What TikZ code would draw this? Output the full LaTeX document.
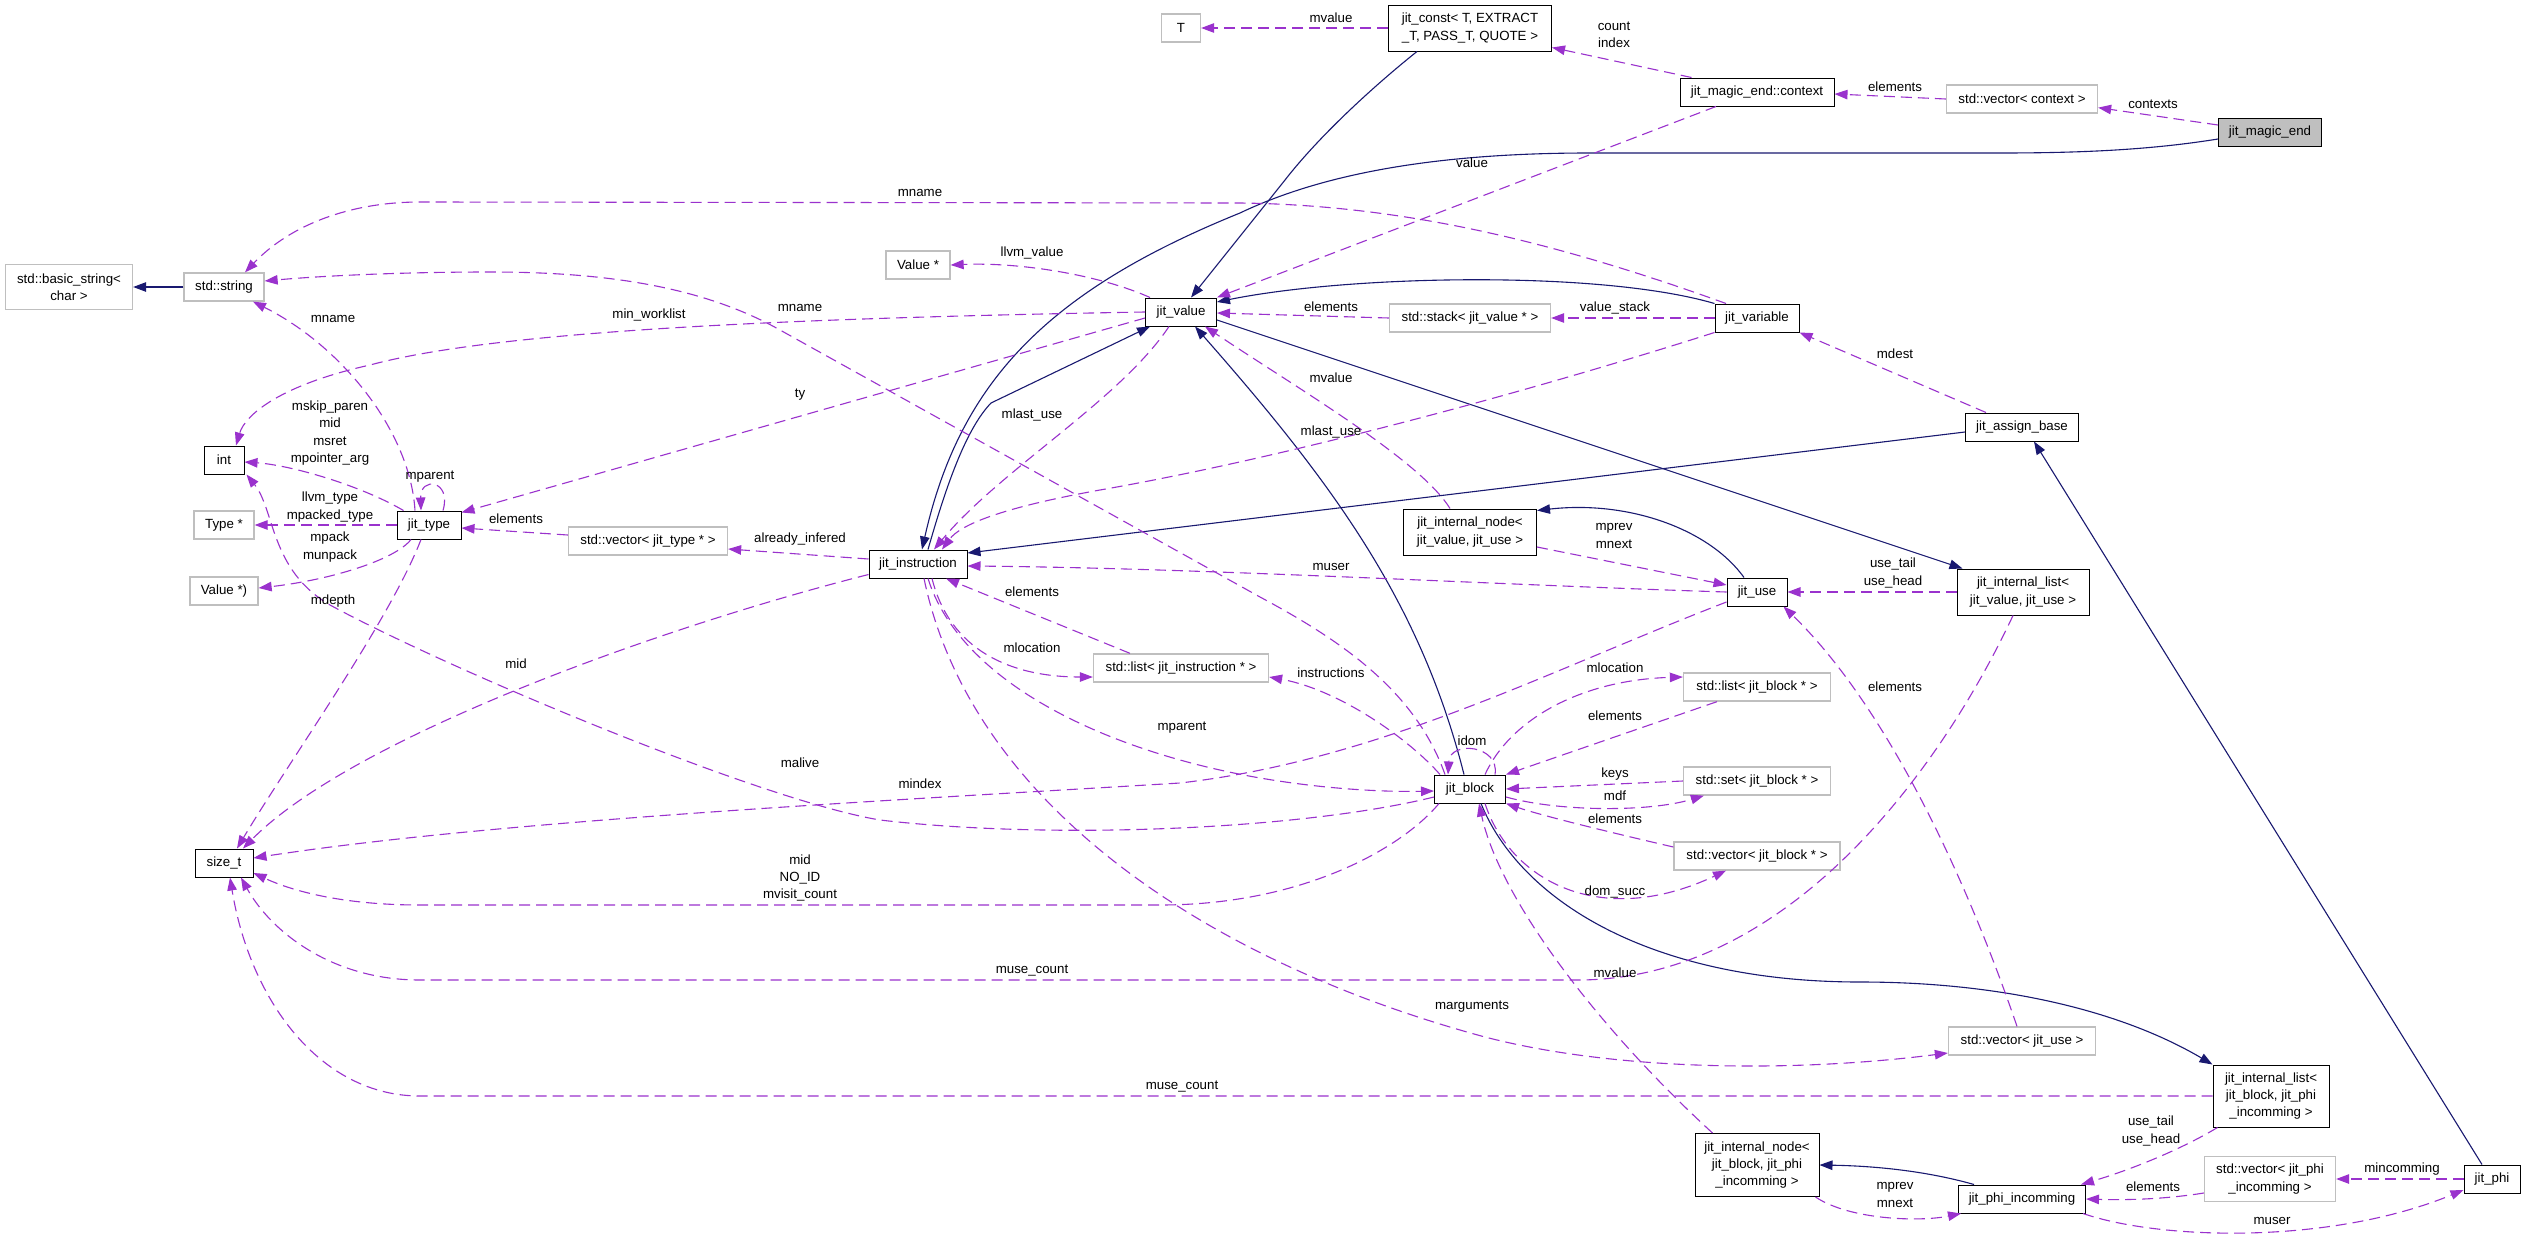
\documentclass[tikz,border=0pt]{standalone}
\usepackage{fontspec}
\setmainfont{Liberation Sans}
\usetikzlibrary{arrows.meta}
\definecolor{navyb}{HTML}{191970}
\definecolor{purp}{HTML}{9A32CD}
\definecolor{grayb}{HTML}{BFBFBF}
\newcommand{\dxfont}{\fontsize{13.3}{17.3}\selectfont}
\begin{document}
\begin{tikzpicture}[x=1pt,y=-1pt,
  cls/.style={draw=black, line width=1pt, fill=white, inner xsep=2pt, inner ysep=2pt, align=center, font=\dxfont, minimum height=28pt},
  ext/.style={cls, draw=grayb, line width=1.3pt},
  inh/.style={draw=navyb, line width=1.1pt, -{Triangle[length=13pt,width=9.5pt]}},
  asso/.style={draw=purp, line width=1.1pt, dash pattern=on 11pt off 6pt, -{Triangle[length=13pt,width=9.5pt]}},
  lbl/.style={font=\dxfont, align=center, inner sep=0pt}]
\path[fill=white,use as bounding box] (0,0) rectangle (2525,1242);

% ---------- nodes ----------
\node[ext, minimum width=127pt, minimum height=45pt] (bstr) at (69,287) {std::basic\_string<\\char >};
\node[ext, minimum width=80pt] (sstr) at (224,287) {std::string};
\node[ext, minimum width=39pt] (nT) at (1181,28) {T};
\node[ext, minimum width=64pt] (valp) at (918,265) {Value *};
\node[cls, minimum width=71pt] (jval) at (1181,312) {jit\_value};
\node[cls, minimum width=163pt, minimum height=46pt] (jconst) at (1470,28) {jit\_const< T, EXTRACT\\\_T, PASS\_T, QUOTE >};
\node[cls, minimum width=154pt] (ctx) at (1757,92) {jit\_magic\_end::context};
\node[ext, minimum width=161pt] (stack) at (1470,318) {std::stack< jit\_value * >};
\node[cls, minimum width=84pt] (jvar) at (1757,318) {jit\_variable};
\node[ext, minimum width=151pt] (vctx) at (2022,99) {std::vector< context >};
\node[cls, fill=grayb, minimum width=103pt] (jme) at (2270,132) {jit\_magic\_end};
\node[cls, minimum width=40pt] (nint) at (224,460) {int};
\node[ext, minimum width=60pt] (typep) at (224,525) {Type *};
\node[cls, minimum width=64pt] (jtype) at (429,525) {jit\_type};
\node[ext, minimum width=68pt] (valpp) at (224,591) {Value *)};
\node[ext, minimum width=159pt] (vtype) at (648,541) {std::vector< jit\_type * >};
\node[cls, minimum width=98pt] (jinst) at (918,564) {jit\_instruction};
\node[ext, minimum width=175pt] (linst) at (1181,668) {std::list< jit\_instruction * >};
\node[cls, minimum width=133pt, minimum height=46pt] (inode1) at (1470,532) {jit\_internal\_node<\\jit\_value, jit\_use >};
\node[cls, minimum width=60pt] (juse) at (1757,592) {jit\_use};
\node[ext, minimum width=147pt] (lblock) at (1757,687) {std::list< jit\_block * >};
\node[cls, minimum width=71pt] (jblock) at (1470,789) {jit\_block};
\node[ext, minimum width=147pt] (sblock) at (1757,781) {std::set< jit\_block * >};
\node[cls, minimum width=113pt] (jab) at (2022,427) {jit\_assign\_base};
\node[cls, minimum width=132pt, minimum height=46pt] (ilist1) at (2023,592) {jit\_internal\_list<\\jit\_value, jit\_use >};
\node[cls, minimum width=58pt] (sizet) at (224,863) {size\_t};
\node[ext, minimum width=166pt] (vblock) at (1757,856) {std::vector< jit\_block * >};
\node[cls, minimum width=124pt, minimum height=63pt] (inode2) at (1757,1165) {jit\_internal\_node<\\jit\_block, jit\_phi\\\_incomming >};
\node[ext, minimum width=147pt] (vuse) at (2022,1041) {std::vector< jit\_use >};
\node[cls, minimum width=116pt, minimum height=62pt] (ilist2) at (2271,1096) {jit\_internal\_list<\\jit\_block, jit\_phi\\\_incomming >};
\node[ext, minimum width=131pt, minimum height=45pt] (vphi) at (2270,1179) {std::vector< jit\_phi\\\_incomming >};
\node[cls, minimum width=56pt] (jphi) at (2492,1179) {jit\_phi};
\node[cls, minimum width=127pt] (jpi) at (2022,1199) {jit\_phi\_incomming};

% ---------- inheritance ----------
\draw[inh] (sstr.west) -- (bstr.east);
\draw[inh] ([xshift=-53pt]jconst.south) .. controls (1375,85) and (1320,135) .. (1285,180) -- ([xshift=10pt]jval.north);
\draw[inh] ([yshift=-7pt]jme.west) .. controls (2150,150) and (2080,153) .. (2000,153) -- (1590,153) .. controls (1450,153) and (1330,170) .. (1240,213) .. controls (1050,290) and (960,380) .. ([xshift=4pt]jinst.north);
\draw[inh] (jvar.north west) .. controls (1600,270) and (1350,275) .. ([yshift=10pt]jval.east);
\draw[inh] ([xshift=10pt]jinst.north) .. controls (945,490) and (965,430) .. (991,403) -- ([xshift=5pt]jval.south west);
\draw[inh] ([yshift=-8pt]jval.east) -- ([xshift=6pt]ilist1.north west);
\draw[inh] ([yshift=-5pt]jab.west) -- ([yshift=11pt]jinst.east);
\draw[inh] ([xshift=-13pt]juse.north) .. controls (1710,530) and (1630,500) .. ([yshift=-2pt]inode1.north east);
\draw[inh] ([xshift=-6pt]jblock.north) .. controls (1420,600) and (1330,480) .. ([xshift=14pt]jval.south);
\draw[inh] ([xshift=11pt]jblock.south) .. controls (1520,900) and (1650,982) .. (1860,982) .. controls (2000,982) and (2120,1010) .. (ilist2.north west);
\draw[inh] ([xshift=-10pt]jphi.north) -- ([xshift=12pt]jab.south);
\draw[inh] ([xshift=-48pt]jpi.north) .. controls (1930,1172) and (1880,1166) .. (inode2.east);

% ---------- usage ----------
\draw[asso] ([yshift=7pt]jme.west) -- ([yshift=6pt]vctx.south east);
\draw[asso] (vctx.west) -- ([yshift=-2pt]ctx.east);
\draw[asso] ([xshift=12pt]ctx.north west) -- ([yshift=4pt]jconst.south east);
\draw[asso] (jconst.west) -- (nT.east);
\draw[asso] ([xshift=-41pt]ctx.south) -- (jval.north east);
\draw[asso] (jvar.west) -- (stack.east);
\draw[asso] (stack.west) -- ([yshift=-1pt]jval.east);
\draw[asso] ([xshift=-31pt]jvar.north) .. controls (1550,240) and (1400,205) .. (1240,203) -- (420,202) .. controls (350,202) and (290,225) .. ([xshift=21pt]sstr.north);
\draw[asso] ([xshift=-25pt]jblock.north) .. controls (1415,690) and (1340,640) .. (1260,597) -- (780,330) .. controls (700,285) and (600,272) .. (490,272) .. controls (400,272) and (320,276) .. ([yshift=6pt]sstr.east);
\draw[asso] (jval.west) .. controls (800,318) and (500,330) .. (370,365) .. controls (280,385) and (245,415) .. ([xshift=12pt]nint.north);
\draw[asso] ([xshift=5pt]jval.north west) .. controls (1100,275) and (1020,262) .. (valp.east);
\draw[asso] ([yshift=-6pt]jval.west) -- ([yshift=-2pt]jtype.north east);
\draw[asso] ([xshift=-12pt]jval.south) .. controls (1120,400) and (1000,470) .. ([xshift=16pt]jinst.north);
\draw[asso] (jvar.south west) .. controls (1550,385) and (1300,455) .. (1100,490) .. controls (1000,508) and (960,525) .. ([xshift=24pt]jinst.north);
\draw[asso] ([xshift=-20pt]inode1.north) .. controls (1420,460) and (1300,390) .. ([xshift=24pt]jval.south);
\draw[asso] ([yshift=-15pt]inode1.east) -- ([yshift=7pt]juse.west);
\draw[asso] (juse.west) .. controls (1500,585) and (1200,568) .. ([yshift=-2pt]jinst.east);
\draw[asso] ([yshift=-10pt]juse.west) .. controls (1550,670) and (1380,760) .. (1180,783) .. controls (900,800) and (500,820) .. ([yshift=5pt]sizet.east);
\draw[asso] ([yshift=5pt]jinst.west) -- ([yshift=-8pt]vtype.east);
\draw[asso] ([yshift=6pt]vtype.west) -- ([yshift=-3pt]jtype.east);
\draw[asso] ([xshift=14pt]jtype.north) .. controls (452,480) and (420,476) .. ([xshift=-8pt]jtype.north);
\draw[asso] ([xshift=-14pt]jtype.north) .. controls (410,430) and (340,345) .. ([xshift=29pt]sstr.south);
\draw[asso] ([xshift=7pt]jtype.north west) .. controls (360,485) and (290,465) .. ([yshift=-2pt]nint.east);
\draw[asso] (jtype.west) -- (typep.east);
\draw[asso] ([xshift=-18pt]jtype.south) .. controls (395,560) and (330,580) .. ([yshift=3pt]valpp.east);
\draw[asso] ([xshift=-8pt]jtype.south) .. controls (390,620) and (290,760) .. ([xshift=13pt]sizet.north);
\draw[asso] ([yshift=-8pt]jblock.west) .. controls (1300,830) and (1050,840) .. (880,820) .. controls (760,800) and (450,670) .. (330,605) .. controls (270,570) and (275,510) .. ([xshift=2pt]nint.south east);
\draw[asso] ([xshift=5pt]jblock.south west) .. controls (1400,850) and (1300,905) .. (1160,905) -- (420,905) .. controls (340,905) and (290,890) .. ([yshift=-10pt]sizet.east);
\draw[asso] ([xshift=-10pt]ilist1.south) .. controls (1950,750) and (1800,978) .. (1580,980) -- (420,980) .. controls (330,980) and (270,930) .. ([xshift=17pt]sizet.south);
\draw[asso] ([xshift=-5pt]vuse.north) .. controls (1960,860) and (1880,700) .. ([xshift=-4pt]juse.south east);
\draw[asso] ([xshift=6pt]jinst.south) .. controls (970,800) and (1200,960) .. (1485,1037) .. controls (1620,1072) and (1800,1072) .. ([yshift=-12pt]vuse.west);
\draw[asso] ([yshift=4pt]jinst.south west) .. controls (650,630) and (350,740) .. ([xshift=19pt]sizet.north);
\draw[asso] ([xshift=14pt]jinst.south) .. controls (950,650) and (1010,677) .. ([yshift=-9pt]linst.west);
\draw[asso] ([xshift=-51pt]linst.north) -- ([xshift=28pt]jinst.south);
\draw[asso] ([xshift=10pt]jinst.south) .. controls (960,680) and (1100,750) .. (1260,778) .. controls (1330,790) and (1390,792) .. ([yshift=-2pt]jblock.west);
\draw[asso] ([xshift=-30pt]jblock.north) .. controls (1410,740) and (1340,690) .. ([yshift=-9pt]linst.east);
\draw[asso] ([xshift=15pt]jblock.north) .. controls (1510,720) and (1580,680) .. ([yshift=10pt]lblock.west);
\draw[asso] ([xshift=-40pt]lblock.south) -- (jblock.north east);
\draw[asso] (sblock.west) -- (jblock.east);
\draw[asso] ([yshift=-8pt]jblock.east) .. controls (1560,812) and (1650,812) .. ([xshift=21pt]sblock.south west);
\draw[asso] ([yshift=9pt]vblock.west) .. controls (1600,830) and (1540,815) .. (jblock.south east);
\draw[asso] ([xshift=15pt]jblock.south) .. controls (1510,880) and (1600,930) .. ([xshift=-31pt]vblock.south);
\draw[asso] ([xshift=18pt]inode2.north west) .. controls (1600,1030) and (1500,900) .. ([xshift=9pt]jblock.south);
\draw[asso] ([xshift=-4pt]inode2.south east) .. controls (1850,1220) and (1920,1222) .. ([xshift=3pt]jpi.south west);
\draw[asso] ([xshift=5pt]ilist2.south west) .. controls (2180,1150) and (2130,1170) .. ([xshift=-5pt]jpi.north east);
\draw[asso] ([yshift=-14pt]vphi.west) .. controls (2160,1200) and (2120,1200) .. (jpi.east);
\draw[asso] (jphi.west) -- (vphi.east);
\draw[asso] ([xshift=-3pt]jpi.south east) .. controls (2160,1240) and (2330,1245) .. ([yshift=-11pt]jphi.west);
\draw[asso] (ilist1.west) -- (juse.east);
\draw[asso] ([xshift=21pt]jab.north west) -- (jvar.south east);
\draw[asso] (ilist2.west) -- (420,1096) .. controls (320,1096) and (250,1000) .. ([xshift=6pt]sizet.south);
\draw[asso] ([xshift=25pt]jblock.north) .. controls (1500,745) and (1450,740) .. ([xshift=-22pt]jblock.north);

% ---------- labels ----------
\node[lbl] (l01) at (2153,104) {contexts};
\node[lbl] (l02) at (1895,87) {elements};
\node[lbl] (l03) at (1614,35) {count\\index};
\node[lbl] (l04) at (1331,18) {mvalue};
\node[lbl] (l05) at (1472,163) {value};
\node[lbl] (l06) at (1615,308) {value\_stack};
\node[lbl] (l07) at (1331,307) {elements};
\node[lbl] (l08) at (920,193) {mname};
\node[lbl] (l09) at (800,308) {mname};
\node[lbl] (l10) at (649,315) {min\_worklist};
\node[lbl] (l11) at (1032,253) {llvm\_value};
\node[lbl] (l12) at (800,395) {ty};
\node[lbl] (l13) at (1032,415) {mlast\_use};
\node[lbl] (l14) at (1331,432) {mlast\_use};
\node[lbl] (l15) at (1331,378) {mvalue};
\node[lbl] (l16) at (1614,536) {mprev\\mnext};
\node[lbl] (l17) at (1331,567) {muser};
\node[lbl] (l18) at (920,784) {mindex};
\node[lbl] (l19) at (800,539) {already\_infered};
\node[lbl] (l20) at (516,519) {elements};
\node[lbl] (l21) at (430,477) {mparent};
\node[lbl] (l22) at (333,319) {mname};
\node[lbl] (l23) at (330,433) {mskip\_paren\\mid\\msret\\mpointer\_arg};
\node[lbl] (l24) at (330,507) {llvm\_type\\mpacked\_type};
\node[lbl] (l25) at (330,547) {mpack\\munpack};
\node[lbl] (l26) at (333,601) {mdepth};
\node[lbl] (l27) at (800,763) {malive};
\node[lbl] (l28) at (800,878) {mid\\NO\_ID\\mvisit\_count};
\node[lbl] (l29) at (1032,971) {muse\_count};
\node[lbl] (l30) at (1895,687) {elements};
\node[lbl] (l31) at (1472,1007) {marguments};
\node[lbl] (l32) at (516,664) {mid};
\node[lbl] (l33) at (1032,648) {mlocation};
\node[lbl] (l34) at (1032,592) {elements};
\node[lbl] (l35) at (1331,673) {instructions};
\node[lbl] (l36) at (1615,668) {mlocation};
\node[lbl] (l37) at (1615,716) {elements};
\node[lbl] (l38) at (1615,774) {keys};
\node[lbl] (l39) at (1615,796) {mdf};
\node[lbl] (l40) at (1615,819) {elements};
\node[lbl] (l41) at (1615,892) {dom\_succ};
\node[lbl] (l42) at (1615,973) {mvalue};
\node[lbl] (l43) at (1895,1195) {mprev\\mnext};
\node[lbl] (l44) at (2151,1131) {use\_tail\\use\_head};
\node[lbl] (l45) at (2153,1187) {elements};
\node[lbl] (l46) at (2402,1169) {mincomming};
\node[lbl] (l47) at (2272,1221) {muser};
\node[lbl] (l48) at (1893,573) {use\_tail\\use\_head};
\node[lbl] (l49) at (1895,354) {mdest};
\node[lbl] (l50) at (1182,1087) {muse\_count};
\node[lbl] (l51) at (1472,741) {idom};
\node[lbl] (l52) at (1182,728) {mparent};
\end{tikzpicture}
\end{document}
